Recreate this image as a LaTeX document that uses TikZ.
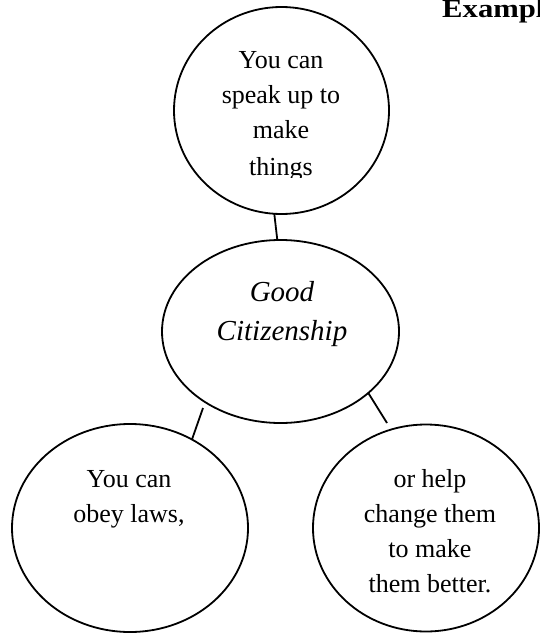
\documentclass[tikz,border=0pt]{standalone}
\usepackage{fontspec}
\setmainfont{Liberation Serif}
\usetikzlibrary{shapes.geometric}
\tikzset{
  bubble/.style={draw, ellipse, line width=1.8pt, inner sep=0pt, outer sep=0pt},
  link/.style={line width=1.8pt},
  txt/.style={anchor=base, inner sep=0pt, font=\fontsize{26}{35}\selectfont},
  itxt/.style={anchor=base, inner sep=0pt, font=\fontsize{29}{40}\selectfont\itshape},
}
\begin{document}
\begin{tikzpicture}[x=1pt,y=-1pt]
\useasboundingbox (0,0) rectangle (539,634);
% ellipses
\node[bubble, minimum width=215pt, minimum height=207pt] (top) at (281.5,110.5) {};
\node[bubble, minimum width=237pt, minimum height=183pt] (mid) at (280.5,331.5) {};
\node[bubble, minimum width=236pt, minimum height=208pt] (bl) at (130,528) {};
\node[bubble, minimum width=226pt, minimum height=207pt] (br) at (426,528) {};
% connectors
\draw[link] (top.-94) -- (mid.92.8);
\coordinate (blt) at (203,408);
\draw[link] (blt) -- (bl.55.6);
\coordinate (brb) at (387,423);
\draw[link] (mid.-35.8) -- (brb);
% heading (cut off at the right edge, as in the reference)
\node[anchor=base west, inner sep=0pt, font=\fontsize{26}{30}\selectfont\bfseries] (head) at (442,18) {\scalebox{1.18}[1]{Exampl}};
% top text (clipped)
\begin{scope}
\clip (0,0) rectangle (539,177);
\node[txt] (t1) at (281,68) {You can};
\node[txt] (t2) at (281,103) {speak up to};
\node[txt] (t3) at (281,138) {make};
\node[txt] (t4) at (281,175) {things};
\end{scope}
% middle text
\node[itxt] (m1) at (282,301) {Good};
\node[itxt] (m2) at (282,340) {Citizenship};
% bottom left text
\node[txt] (l1) at (129,487) {You can};
\node[txt] (l2) at (129,522) {obey laws,};
% bottom right text
\node[txt] (r1) at (430,487) {or help};
\node[txt] (r2) at (430,522) {change them};
\node[txt] (r3) at (430,557) {to make};
\node[txt] (r4) at (430,592) {them better.};
\end{tikzpicture}
\end{document}
